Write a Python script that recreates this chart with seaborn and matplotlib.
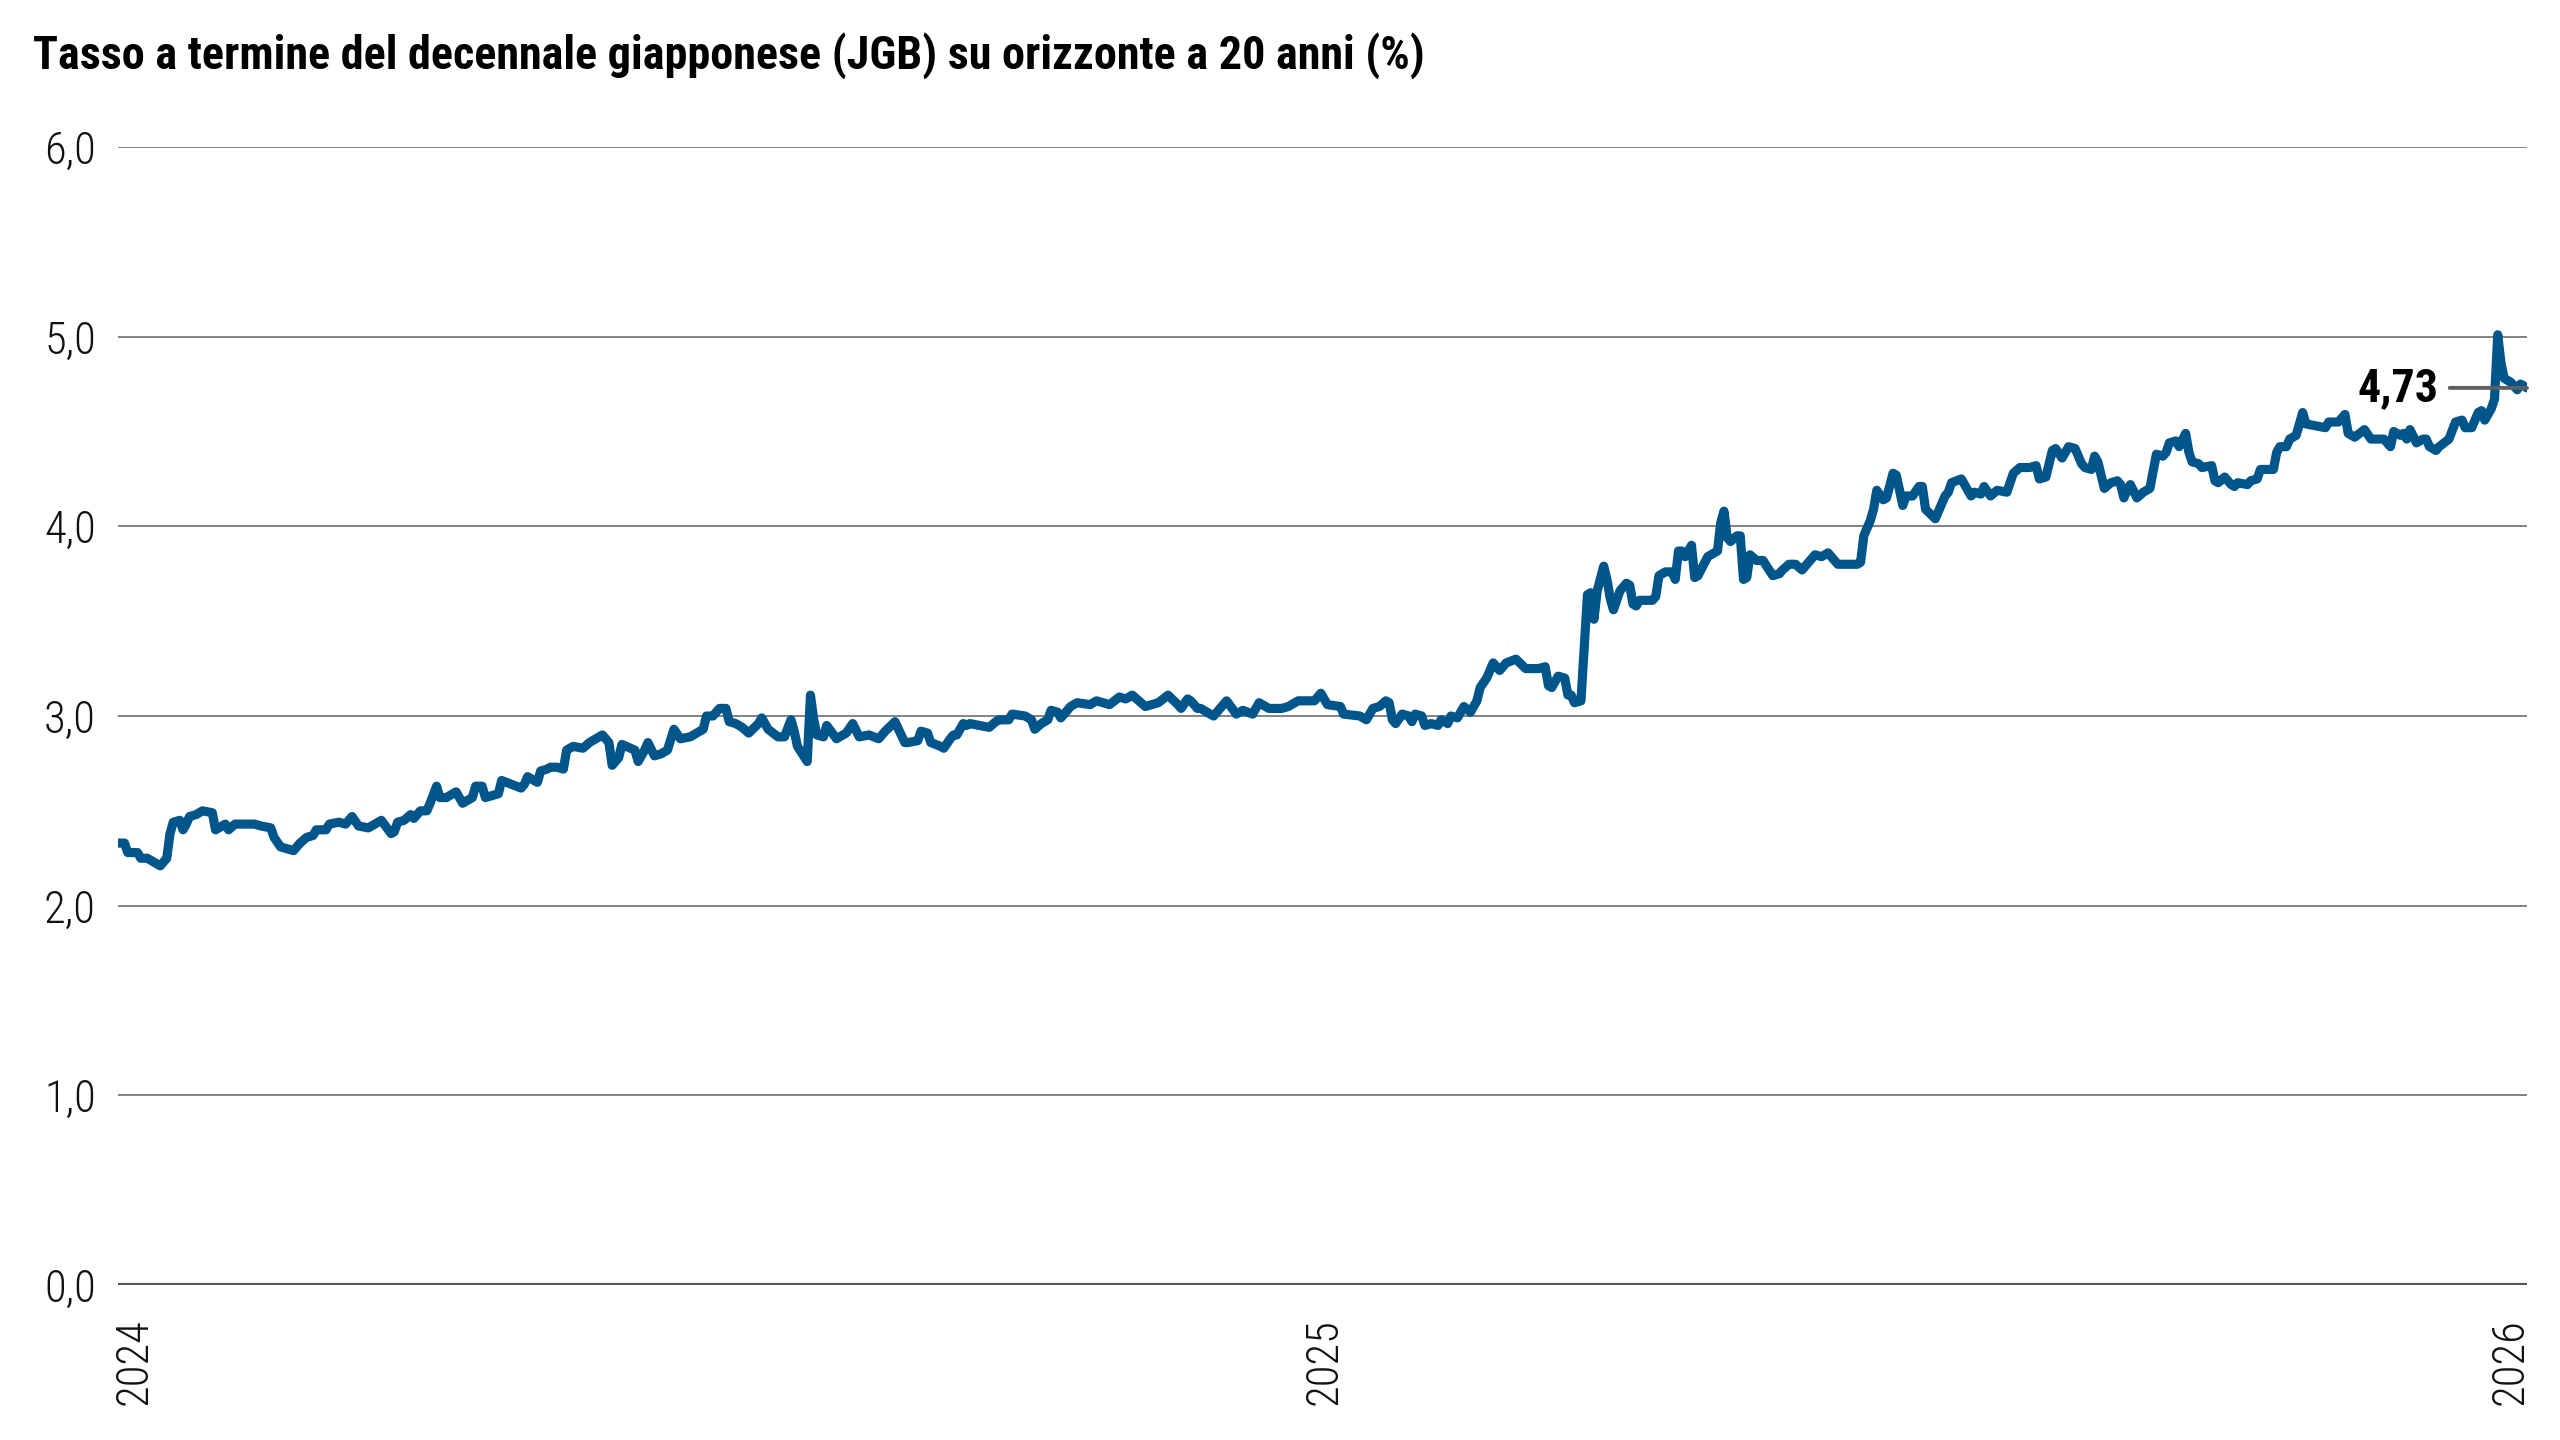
import pandas as pd
import matplotlib
matplotlib.use('Agg')
import matplotlib.pyplot as plt
import matplotlib.dates as mdates
from matplotlib import font_manager
import seaborn as sns

# 20y forward rate of 10y JGB
dates = [
    '2023-12-27', '2023-12-29', '2023-12-30', '2024-01-02', '2024-01-03', '2024-01-05', '2024-01-09',
    '2024-01-11', '2024-01-12', '2024-01-13', '2024-01-15', '2024-01-16', '2024-01-17', '2024-01-18',
    '2024-01-20', '2024-01-22', '2024-01-25', '2024-01-26', '2024-01-29', '2024-01-30', '2024-02-01',
    '2024-02-07', '2024-02-09', '2024-02-12', '2024-02-13', '2024-02-15', '2024-02-19', '2024-02-21',
    '2024-02-23', '2024-02-25', '2024-02-26', '2024-02-29', '2024-03-01', '2024-03-04', '2024-03-06',
    '2024-03-08', '2024-03-10', '2024-03-13', '2024-03-17', '2024-03-20', '2024-03-21', '2024-03-22',
    '2024-03-24', '2024-03-26', '2024-03-27', '2024-03-29', '2024-03-31', '2024-04-01', '2024-04-03',
    '2024-04-04', '2024-04-06', '2024-04-09', '2024-04-11', '2024-04-14', '2024-04-15', '2024-04-17',
    '2024-04-18', '2024-04-20', '2024-04-22', '2024-04-23', '2024-04-29', '2024-04-30', '2024-05-01',
    '2024-05-04', '2024-05-05', '2024-05-07', '2024-05-08', '2024-05-10', '2024-05-12', '2024-05-13',
    '2024-05-15', '2024-05-18', '2024-05-20', '2024-05-23', '2024-05-24', '2024-05-26', '2024-05-27',
    '2024-05-29', '2024-05-30', '2024-06-03', '2024-06-04', '2024-06-06', '2024-06-07', '2024-06-09',
    '2024-06-11', '2024-06-13', '2024-06-15', '2024-06-17', '2024-06-20', '2024-06-21', '2024-06-24',
    '2024-06-25', '2024-06-27', '2024-06-29', '2024-07-01', '2024-07-02', '2024-07-04', '2024-07-06',
    '2024-07-08', '2024-07-11', '2024-07-12', '2024-07-14', '2024-07-17', '2024-07-19', '2024-07-21',
    '2024-07-22', '2024-07-23', '2024-07-26', '2024-07-27', '2024-07-28', '2024-07-29', '2024-07-31',
    '2024-08-01', '2024-08-04', '2024-08-07', '2024-08-09', '2024-08-11', '2024-08-14', '2024-08-17',
    '2024-08-19', '2024-08-22', '2024-08-25', '2024-08-26', '2024-08-29', '2024-08-30', '2024-09-01',
    '2024-09-02', '2024-09-05', '2024-09-06', '2024-09-08', '2024-09-09', '2024-09-10', '2024-09-12',
    '2024-09-13', '2024-09-14', '2024-09-20', '2024-09-22', '2024-09-23', '2024-09-26', '2024-09-27',
    '2024-10-01', '2024-10-03', '2024-10-04', '2024-10-06', '2024-10-08', '2024-10-09', '2024-10-11',
    '2024-10-12', '2024-10-15', '2024-10-17', '2024-10-21', '2024-10-23', '2024-10-27', '2024-10-30',
    '2024-11-01', '2024-11-03', '2024-11-05', '2024-11-07', '2024-11-11', '2024-11-14', '2024-11-17',
    '2024-11-18', '2024-11-20', '2024-11-21', '2024-11-23', '2024-11-24', '2024-11-28', '2024-12-02',
    '2024-12-05', '2024-12-07', '2024-12-10', '2024-12-12', '2024-12-15', '2024-12-19', '2024-12-21',
    '2024-12-24', '2024-12-26', '2024-12-28', '2024-12-29', '2024-12-31', '2025-01-02', '2025-01-06',
    '2025-01-07', '2025-01-12', '2025-01-14', '2025-01-16', '2025-01-18', '2025-01-20', '2025-01-21',
    '2025-01-22', '2025-01-23', '2025-01-25', '2025-01-27', '2025-01-28', '2025-01-29', '2025-01-31',
    '2025-02-01', '2025-02-03', '2025-02-05', '2025-02-06', '2025-02-08', '2025-02-09', '2025-02-11',
    '2025-02-13', '2025-02-15', '2025-02-17', '2025-02-18', '2025-02-20', '2025-02-22', '2025-02-24',
    '2025-02-26', '2025-03-01', '2025-03-04', '2025-03-08', '2025-03-10', '2025-03-11', '2025-03-12',
    '2025-03-14', '2025-03-16', '2025-03-17', '2025-03-18', '2025-03-19', '2025-03-21', '2025-03-23',
    '2025-03-24', '2025-03-25', '2025-03-26', '2025-03-28', '2025-03-29', '2025-03-30', '2025-03-31',
    '2025-04-02', '2025-04-04', '2025-04-05', '2025-04-06', '2025-04-07', '2025-04-08', '2025-04-12',
    '2025-04-13', '2025-04-14', '2025-04-16', '2025-04-18', '2025-04-19', '2025-04-20', '2025-04-21',
    '2025-04-22', '2025-04-23', '2025-04-24', '2025-04-25', '2025-04-26', '2025-04-29', '2025-05-01',
    '2025-05-02', '2025-05-03', '2025-05-04', '2025-05-05', '2025-05-06', '2025-05-08', '2025-05-09',
    '2025-05-10', '2025-05-11', '2025-05-12', '2025-05-14', '2025-05-16', '2025-05-19', '2025-05-21',
    '2025-05-22', '2025-05-24', '2025-05-26', '2025-05-28', '2025-05-29', '2025-06-01', '2025-06-03',
    '2025-06-05', '2025-06-08', '2025-06-14', '2025-06-15', '2025-06-16', '2025-06-18', '2025-06-19',
    '2025-06-20', '2025-06-22', '2025-06-23', '2025-06-25', '2025-06-26', '2025-06-28', '2025-06-29',
    '2025-07-01', '2025-07-03', '2025-07-04', '2025-07-05', '2025-07-08', '2025-07-11', '2025-07-12',
    '2025-07-13', '2025-07-16', '2025-07-19', '2025-07-20', '2025-07-22', '2025-07-23', '2025-07-25',
    '2025-07-27', '2025-07-30', '2025-08-01', '2025-08-03', '2025-08-06', '2025-08-08', '2025-08-09',
    '2025-08-11', '2025-08-13', '2025-08-14', '2025-08-16', '2025-08-18', '2025-08-20', '2025-08-22',
    '2025-08-23', '2025-08-25', '2025-08-26', '2025-08-27', '2025-08-29', '2025-08-31', '2025-09-02',
    '2025-09-03', '2025-09-04', '2025-09-05', '2025-09-06', '2025-09-08', '2025-09-10', '2025-09-12',
    '2025-09-14', '2025-09-16', '2025-09-17', '2025-09-18', '2025-09-20', '2025-09-21', '2025-09-23',
    '2025-09-24', '2025-09-25', '2025-09-27', '2025-09-28', '2025-10-01', '2025-10-02', '2025-10-03',
    '2025-10-05', '2025-10-07', '2025-10-08', '2025-10-09', '2025-10-12', '2025-10-13', '2025-10-15',
    '2025-10-16', '2025-10-20', '2025-10-21', '2025-10-22', '2025-10-24', '2025-10-25', '2025-10-27',
    '2025-10-29', '2025-10-30', '2025-11-02', '2025-11-05', '2025-11-06', '2025-11-09', '2025-11-11',
    '2025-11-12', '2025-11-14', '2025-11-17', '2025-11-19', '2025-11-22', '2025-11-23', '2025-11-25',
    '2025-11-26', '2025-11-28', '2025-11-29', '2025-11-30', '2025-12-01', '2025-12-03', '2025-12-05',
    '2025-12-06', '2025-12-07', '2025-12-09', '2025-12-10', '2025-12-13', '2025-12-15', '2025-12-17',
    '2025-12-18', '2025-12-20', '2025-12-22', '2025-12-23', '2025-12-24', '2025-12-26', '2025-12-27',
    '2025-12-28', '2025-12-29', '2025-12-30', '2026-01-01', '2026-01-03', '2026-01-04', '2026-01-06',
]
rates = [
    2.33, 2.33, 2.28, 2.28, 2.25, 2.25, 2.21,
    2.25, 2.38, 2.44, 2.45, 2.40, 2.43, 2.47,
    2.48, 2.50, 2.49, 2.40, 2.43, 2.40, 2.43,
    2.43, 2.42, 2.41, 2.36, 2.31, 2.29, 2.33,
    2.36, 2.37, 2.40, 2.40, 2.43, 2.44, 2.43,
    2.47, 2.42, 2.41, 2.45, 2.38, 2.39, 2.44,
    2.45, 2.48, 2.46, 2.50, 2.50, 2.54, 2.63,
    2.57, 2.57, 2.60, 2.54, 2.57, 2.63, 2.63,
    2.57, 2.58, 2.59, 2.66, 2.62, 2.64, 2.68,
    2.65, 2.71, 2.72, 2.73, 2.73, 2.72, 2.82,
    2.84, 2.83, 2.86, 2.89, 2.90, 2.86, 2.74,
    2.78, 2.85, 2.82, 2.76, 2.82, 2.86, 2.79,
    2.80, 2.82, 2.93, 2.88, 2.89, 2.90, 2.93,
    3.00, 3.00, 3.04, 3.04, 2.97, 2.96, 2.94,
    2.91, 2.96, 2.99, 2.93, 2.89, 2.89, 2.98,
    2.92, 2.84, 2.76, 3.11, 2.98, 2.90, 2.89,
    2.95, 2.88, 2.91, 2.96, 2.89, 2.90, 2.88,
    2.92, 2.97, 2.86, 2.86, 2.87, 2.92, 2.91,
    2.86, 2.84, 2.83, 2.88, 2.90, 2.90, 2.96,
    2.95, 2.96, 2.94, 2.97, 2.98, 2.98, 3.01,
    3.00, 2.98, 2.93, 2.96, 2.98, 3.03, 3.02,
    2.99, 3.05, 3.07, 3.06, 3.08, 3.06, 3.10,
    3.09, 3.11, 3.08, 3.05, 3.07, 3.11, 3.06,
    3.04, 3.09, 3.08, 3.04, 3.04, 3.00, 3.08,
    3.01, 3.03, 3.01, 3.07, 3.04, 3.04, 3.05,
    3.08, 3.08, 3.08, 3.08, 3.12, 3.06, 3.05,
    3.01, 3.00, 2.98, 3.04, 3.05, 3.08, 3.07,
    2.98, 2.96, 3.01, 3.00, 2.97, 3.01, 3.00,
    2.95, 2.96, 2.95, 2.98, 2.96, 3.00, 2.99,
    3.05, 3.02, 3.08, 3.15, 3.20, 3.28, 3.24,
    3.28, 3.30, 3.25, 3.25, 3.26, 3.16, 3.15,
    3.21, 3.20, 3.11, 3.11, 3.07, 3.08, 3.64,
    3.65, 3.51, 3.66, 3.79, 3.72, 3.62, 3.56,
    3.66, 3.70, 3.69, 3.59, 3.58, 3.61, 3.61,
    3.63, 3.74, 3.76, 3.76, 3.72, 3.87, 3.87,
    3.84, 3.87, 3.90, 3.73, 3.74, 3.84, 3.86,
    3.87, 4.02, 4.08, 3.94, 3.92, 3.95, 3.95,
    3.72, 3.73, 3.85, 3.82, 3.82, 3.74, 3.75,
    3.77, 3.80, 3.80, 3.77, 3.79, 3.85, 3.84,
    3.86, 3.80, 3.80, 3.81, 3.95, 4.03, 4.09,
    4.19, 4.14, 4.15, 4.28, 4.27, 4.11, 4.16,
    4.16, 4.21, 4.21, 4.09, 4.04, 4.16, 4.18,
    4.23, 4.25, 4.16, 4.18, 4.17, 4.21, 4.16,
    4.19, 4.18, 4.28, 4.31, 4.31, 4.32, 4.25,
    4.26, 4.40, 4.41, 4.36, 4.42, 4.41, 4.33,
    4.31, 4.30, 4.37, 4.34, 4.20, 4.23, 4.24,
    4.22, 4.15, 4.19, 4.22, 4.15, 4.18, 4.20,
    4.38, 4.37, 4.39, 4.44, 4.45, 4.42, 4.49,
    4.39, 4.34, 4.33, 4.31, 4.32, 4.24, 4.23,
    4.26, 4.22, 4.21, 4.23, 4.22, 4.24, 4.25,
    4.30, 4.30, 4.39, 4.42, 4.42, 4.46, 4.48,
    4.60, 4.54, 4.53, 4.52, 4.55, 4.55, 4.59,
    4.49, 4.47, 4.51, 4.46, 4.46, 4.46, 4.42,
    4.50, 4.48, 4.49, 4.46, 4.51, 4.44, 4.46,
    4.46, 4.42, 4.40, 4.42, 4.46, 4.55, 4.56,
    4.52, 4.52, 4.60, 4.61, 4.56, 4.62, 4.67,
    5.01, 4.86, 4.78, 4.76, 4.72, 4.75, 4.73,
]

year_ticks = ['2024-01-01', '2025-01-01', '2026-01-01']
y_ticks = [0, 1, 2, 3, 4, 5, 6]
title = 'Tasso a termine del decennale giapponese (JGB) su orizzonte a 20 anni (%)'

df = pd.DataFrame({'date': pd.to_datetime(dates), 'rate': rates})

sns.set_theme(style='white')

# condensed font if one is installed
installed = {f.name for f in font_manager.fontManager.ttflist}
cond = next(f for f in ['Roboto Condensed', 'Liberation Sans Narrow', 'Roboto', 'DejaVu Sans']
            if f in installed)
plt.rcParams['font.family'] = [cond, 'DejaVu Sans']

line_color = '#00558a'
grid_color = '#6d6e71'

fig = plt.figure(figsize=(12.8, 7.2), dpi=200)
ax = fig.add_axes([118 / 2560, 1 - 1285 / 1440, (2527 - 118) / 2560, (1285 - 147) / 1440])

for y in y_ticks[1:]:
    ax.axhline(y, color=grid_color, lw=0.6, zorder=1)
ax.axhline(0, color='#54575a', lw=1.5, zorder=1)

sns.lineplot(data=df, x='date', y='rate', ax=ax, color=line_color, linewidth=3.3,
             estimator=None, zorder=3)

ax.set_xlim(df['date'].min(), df['date'].max())
ax.set_ylim(0, 6)
ax.set_yticks(y_ticks)
ax.set_yticklabels([f'{v:.1f}'.replace('.', ',') for v in y_ticks])
ax.set_xticks(pd.to_datetime(year_ticks))
ax.xaxis.set_major_formatter(mdates.DateFormatter('%Y'))
ax.set_xlabel('')
ax.set_ylabel('')
for s in ax.spines.values():
    s.set_visible(False)
ax.tick_params(axis='y', length=0, pad=8, labelsize=16, colors='#111111')
ax.tick_params(axis='x', length=0, pad=12, labelsize=16, colors='#111111', labelrotation=90)
for lab in ax.get_yticklabels() + ax.get_xticklabels():
    lab.set_fontweight('light')

last_date = df['date'].iloc[-1]
last_val = df['rate'].iloc[-1]
ax.annotate(f'{last_val:.2f}'.replace('.', ','), xy=(last_date, last_val),
            xytext=(-32, 0), textcoords='offset points', ha='right', va='center',
            fontsize=16.5, fontweight='bold', color='black',
            arrowprops=dict(arrowstyle='-', color='#5f6062', lw=1.4, shrinkA=2, shrinkB=0),
            zorder=4)

fig.text(33 / 2560, 1 - 69 / 1440, title, fontsize=16.6, fontweight='bold',
         ha='left', va='baseline', color='black')

fig.savefig('out.png', dpi=200)
